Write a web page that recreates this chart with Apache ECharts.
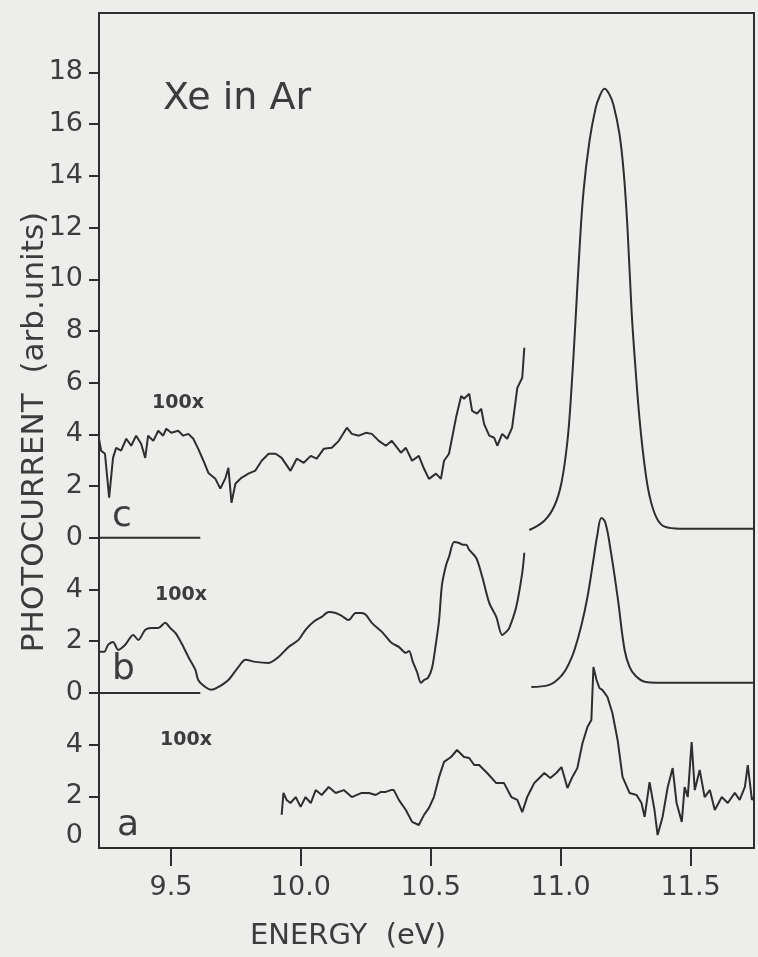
<!DOCTYPE html>
<html>
<head>
<meta charset="utf-8">
<script src="https://cdn.jsdelivr.net/npm/echarts@6/dist/echarts.min.js"></script>
<style>
    html, body { margin: 0; padding: 0; background: #ededeb; }
    #main { width: 758px; height: 957px; }
</style>
</head>
<body>
<div id="main"></div>
<script>
// energy (eV), photocurrent (arb. units) - each trace in its own units
var xTicks = [9.5, 10.0, 10.5, 11.0, 11.5];
var aTicks = [2, 4];
var bTicks = [0, 2, 4];
var cTicks = [0, 2, 4, 6, 8, 10, 12, 14, 16, 18];

// c: 100x part
var cLow = [
    [9.223, 3.83], [9.231, 3.37], [9.246, 3.25], [9.262, 1.55], [9.277, 3.09], [9.289, 3.48],
    [9.308, 3.37], [9.328, 3.83], [9.347, 3.56], [9.366, 3.95], [9.385, 3.64], [9.401, 3.09],
    [9.412, 3.95], [9.432, 3.75], [9.451, 4.14], [9.470, 3.95], [9.482, 4.22], [9.501, 4.06],
    [9.528, 4.14], [9.547, 3.95], [9.567, 4.02], [9.586, 3.83], [9.605, 3.44], [9.625, 2.98],
    [9.644, 2.51], [9.671, 2.28], [9.690, 1.90], [9.710, 2.32], [9.721, 2.71], [9.733, 1.35],
    [9.748, 2.09], [9.771, 2.32], [9.798, 2.48], [9.825, 2.60], [9.849, 2.98], [9.876, 3.25],
    [9.903, 3.25], [9.926, 3.09], [9.960, 2.59], [9.984, 3.06], [10.011, 2.90], [10.038, 3.17],
    [10.061, 3.06], [10.088, 3.44], [10.119, 3.48], [10.146, 3.75], [10.177, 4.26], [10.196, 4.02],
    [10.223, 3.95], [10.250, 4.06], [10.273, 4.02], [10.300, 3.75], [10.327, 3.56], [10.350, 3.75],
    [10.385, 3.29], [10.404, 3.48], [10.428, 2.98], [10.454, 3.17], [10.474, 2.67], [10.493, 2.28],
    [10.520, 2.48], [10.539, 2.28], [10.551, 2.98], [10.570, 3.25], [10.597, 4.64], [10.617, 5.49],
    [10.628, 5.38], [10.648, 5.57], [10.659, 4.91], [10.678, 4.80], [10.694, 4.99], [10.705, 4.41],
    [10.725, 3.95], [10.744, 3.87], [10.756, 3.56], [10.775, 4.02], [10.794, 3.83], [10.813, 4.26],
    [10.833, 5.80], [10.852, 6.19], [10.860, 7.35]
];
// c: main peak
var cPeak = [
    [10.879, 0.30], [10.937, 0.66], [10.976, 1.24], [11.003, 2.13], [11.026, 3.75], [11.041, 5.69],
    [11.057, 8.39], [11.072, 11.10], [11.088, 13.42], [11.111, 15.36], [11.134, 16.60], [11.149, 17.06],
    [11.169, 17.37], [11.188, 17.14], [11.203, 16.75], [11.226, 15.63], [11.242, 14.20], [11.257, 12.00],
    [11.273, 8.74], [11.288, 6.54], [11.304, 4.53], [11.323, 2.79], [11.342, 1.62], [11.369, 0.77],
    [11.400, 0.43], [11.458, 0.35], [11.744, 0.35]
];
var cZero = [[9.223, 0], [9.613, 0]];

// b: 100x part
var bLow = [
    [9.223, 1.59], [9.243, 1.59], [9.258, 1.86], [9.277, 1.97], [9.297, 1.66], [9.324, 1.86],
    [9.355, 2.24], [9.374, 2.05], [9.401, 2.44], [9.424, 2.51], [9.451, 2.51], [9.478, 2.71],
    [9.497, 2.51], [9.517, 2.32], [9.540, 1.93], [9.567, 1.39], [9.594, 0.89], [9.605, 0.50],
    [9.632, 0.23], [9.656, 0.12], [9.683, 0.23], [9.721, 0.50], [9.760, 1.01], [9.787, 1.28],
    [9.825, 1.20], [9.876, 1.16], [9.914, 1.39], [9.953, 1.78], [9.991, 2.05], [10.018, 2.44],
    [10.049, 2.75], [10.080, 2.94], [10.107, 3.13], [10.134, 3.09], [10.157, 2.98], [10.184, 2.82],
    [10.211, 3.09], [10.234, 3.09], [10.250, 3.02], [10.273, 2.71], [10.312, 2.36], [10.350, 1.93],
    [10.377, 1.78], [10.404, 1.55], [10.416, 1.62], [10.431, 1.20], [10.447, 0.81], [10.462, 0.39],
    [10.474, 0.50], [10.489, 0.58], [10.505, 0.97], [10.520, 1.93], [10.532, 2.82], [10.543, 4.18],
    [10.559, 4.95], [10.570, 5.26], [10.590, 5.84], [10.609, 5.80], [10.624, 5.73], [10.636, 5.73],
    [10.648, 5.53], [10.675, 5.22], [10.698, 4.49], [10.725, 3.48], [10.752, 2.94], [10.775, 2.24],
    [10.790, 2.36], [10.802, 2.51], [10.829, 3.33], [10.852, 4.64], [10.860, 5.42]
];
// b: main peak
var bPeak = [
    [10.887, 0.23], [10.956, 0.31], [11.006, 0.70], [11.033, 1.16], [11.053, 1.66], [11.080, 2.63],
    [11.103, 3.71], [11.126, 5.15], [11.141, 6.11], [11.157, 6.77], [11.172, 6.58], [11.192, 5.53],
    [11.219, 3.71], [11.246, 1.66], [11.265, 1.01], [11.288, 0.66], [11.323, 0.43], [11.369, 0.39],
    [11.744, 0.39]
];
var bZero = [[9.223, 0], [9.613, 0]];

// a: 100x trace
var aTrace = [
    [9.926, 1.28], [9.933, 2.13], [9.945, 1.86], [9.960, 1.74], [9.980, 1.97], [9.999, 1.59],
    [10.018, 1.97], [10.038, 1.74], [10.057, 2.24], [10.080, 2.05], [10.107, 2.36], [10.134, 2.13],
    [10.165, 2.24], [10.196, 1.97], [10.234, 2.13], [10.262, 2.13], [10.288, 2.05], [10.308, 2.17],
    [10.327, 2.17], [10.346, 2.24], [10.358, 2.24], [10.377, 1.86], [10.404, 1.47], [10.428, 1.01],
    [10.454, 0.89], [10.474, 1.28], [10.493, 1.55], [10.512, 1.97], [10.532, 2.75], [10.551, 3.33],
    [10.578, 3.52], [10.601, 3.79], [10.628, 3.52], [10.648, 3.48], [10.667, 3.21], [10.686, 3.21],
    [10.717, 2.90], [10.752, 2.51], [10.782, 2.51], [10.810, 1.97], [10.833, 1.86], [10.852, 1.39],
    [10.871, 1.97], [10.898, 2.51], [10.918, 2.71], [10.937, 2.90], [10.960, 2.71], [10.983, 2.90],
    [11.003, 3.13], [11.026, 2.32], [11.045, 2.75], [11.064, 3.09], [11.084, 4.06], [11.103, 4.68],
    [11.118, 4.95], [11.126, 7.00], [11.138, 6.50], [11.149, 6.19], [11.161, 6.11], [11.180, 5.84],
    [11.199, 5.22], [11.219, 4.18], [11.238, 2.75], [11.265, 2.13], [11.292, 2.05], [11.311, 1.74],
    [11.323, 1.20], [11.342, 2.55], [11.361, 1.47], [11.373, 0.50], [11.392, 1.20], [11.412, 2.36],
    [11.431, 3.09], [11.446, 1.74], [11.466, 1.01], [11.477, 2.36], [11.489, 1.97], [11.504, 4.10],
    [11.516, 2.24], [11.535, 3.02], [11.554, 1.97], [11.574, 2.24], [11.593, 1.47], [11.620, 1.97],
    [11.643, 1.74], [11.670, 2.13], [11.689, 1.86], [11.709, 2.36], [11.720, 3.21], [11.736, 1.86],
    [11.744, 1.97]
];

var ink = '#2e2e2e';
var textInk = '#3c3c3c';
var font = 'DejaVu Sans';

function yAxisFor(min, max, ticks, labels, showLine) {
    return {
        type: 'value',
        position: 'left',
        min: min,
        max: max,
        axisLine: { show: showLine, lineStyle: { color: ink, width: 2 } },
        axisTick: { show: true, customValues: ticks, length: 10, lineStyle: { color: ink, width: 2 } },
        axisLabel: {
            customValues: labels,
            margin: 16,
            color: textInk,
            fontSize: 27,
            fontFamily: font,
            formatter: function (v) { return String(Math.round(v)); }
        },
        splitLine: { show: false }
    };
}

function trace(data, axis, smooth) {
    return {
        type: 'line',
        data: data,
        yAxisIndex: axis,
        showSymbol: false,
        smooth: smooth || false,
        clip: true,
        lineStyle: { color: ink, width: 2 }
    };
}

var chart = echarts.init(document.getElementById('main'));
chart.setOption({
    animation: false,
    backgroundColor: '#ededeb',
    grid: {
        left: 99, right: 4, top: 13, bottom: 109,
        show: true, borderColor: ink, borderWidth: 2
    },
    xAxis: {
        type: 'value',
        min: 9.223,
        max: 11.744,
        axisLine: { lineStyle: { color: ink, width: 2 } },
        axisTick: { customValues: xTicks, length: 18, lineStyle: { color: ink, width: 2 } },
        axisLabel: {
            customValues: xTicks,
            margin: 26,
            color: textInk,
            fontSize: 27,
            fontFamily: font,
            formatter: function (v) { return v.toFixed(1); }
        },
        splitLine: { show: false }
    },
    yAxis: [
        // a: baseline at the bottom, label "0" sits a bit above the frame
        yAxisFor(0, 32.3, aTicks, [0.45, 2, 4], true),
        yAxisFor(-6, 26.3, bTicks, bTicks, false),
        yAxisFor(-12, 20.3, cTicks, cTicks, false)
    ],
    series: [
        trace(aTrace, 0),
        trace(bLow, 1, 0.3),
        trace(bPeak, 1, 0.4),
        trace(bZero, 1),
        trace(cLow, 2),
        trace(cPeak, 2, 0.4),
        trace(cZero, 2)
    ],
    graphic: [
        { type: 'text', left: 163, top: 80, style: { text: 'Xe in Ar', fontSize: 38, fontFamily: font, fill: textInk } },
        { type: 'text', left: 112, top: 499, style: { text: 'c', fontSize: 36, fontFamily: font, fill: textInk } },
        { type: 'text', left: 112, top: 652, style: { text: 'b', fontSize: 36, fontFamily: font, fill: textInk } },
        { type: 'text', left: 117, top: 808, style: { text: 'a', fontSize: 36, fontFamily: font, fill: textInk } },
        { type: 'text', left: 152, top: 394, style: { text: '100x', fontSize: 19, fontWeight: 'bold', fontFamily: font, fill: textInk } },
        { type: 'text', left: 155, top: 586, style: { text: '100x', fontSize: 19, fontWeight: 'bold', fontFamily: font, fill: textInk } },
        { type: 'text', left: 160, top: 731, style: { text: '100x', fontSize: 19, fontWeight: 'bold', fontFamily: font, fill: textInk } },
        { type: 'text', left: 250, top: 922, style: { text: 'ENERGY  (eV)', fontSize: 29, fontFamily: font, fill: textInk } },
        {
            type: 'text', x: 35, y: 432, rotation: Math.PI / 2,
            style: { text: 'PHOTOCURRENT  (arb.units)', fontSize: 31, fontFamily: font, fill: textInk, align: 'center', verticalAlign: 'middle' }
        }
    ]
});
</script>
</body>
</html>
